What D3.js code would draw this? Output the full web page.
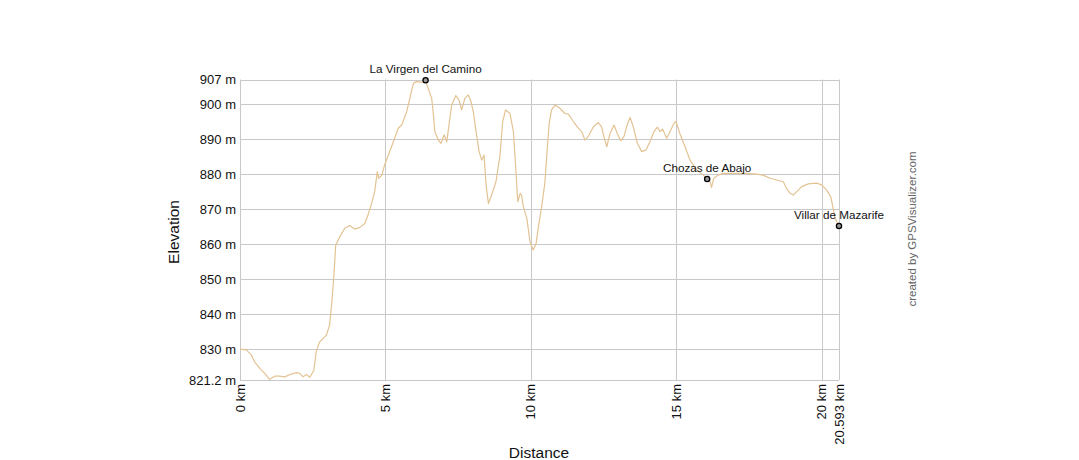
<!DOCTYPE html>
<html><head><meta charset="utf-8">
<script src="https://cdn.jsdelivr.net/npm/d3@7"></script>
<style>
html,body{margin:0;padding:0;background:#fff;}
svg{display:block;font-family:"Liberation Sans",Arial,sans-serif;}
</style></head>
<body>
<svg id="c" width="1079" height="460"></svg>
<script>
const distanceKm = [0,0.22,0.39,0.5,0.68,0.85,1.02,1.19,1.36,1.54,1.76,1.94,2.05,2.17,2.28,2.40,2.54,2.62,2.74,2.97,3.08,3.16,3.23,3.29,3.43,3.60,3.77,3.94,4.11,4.29,4.40,4.51,4.63,4.72,4.77,4.88,4.97,5.21,5.44,5.56,5.73,5.84,5.96,6.07,6.24,6.38,6.47,6.59,6.65,6.70,6.82,6.91,7.02,7.11,7.20,7.28,7.42,7.53,7.62,7.73,7.85,7.94,8.02,8.10,8.22,8.31,8.39,8.46,8.54,8.65,8.80,8.94,9.03,9.13,9.28,9.40,9.48,9.55,9.63,9.68,9.74,9.86,9.97,10.08,10.18,10.26,10.37,10.48,10.56,10.63,10.71,10.83,11.00,11.17,11.29,11.46,11.63,11.75,11.86,11.97,12.15,12.32,12.43,12.51,12.61,12.72,12.86,12.97,13.09,13.20,13.29,13.41,13.52,13.66,13.81,13.96,14.09,14.23,14.35,14.44,14.53,14.67,14.78,14.92,14.99,15.12,15.30,15.47,15.70,15.93,16.06,16.16,16.21,16.29,16.44,16.61,16.96,17.41,17.76,17.98,18.22,18.45,18.68,18.79,18.91,19.02,19.14,19.31,19.54,19.82,20.0,20.17,20.31,20.38,20.46,20.593];
const elevationM = [830.0,829.8,828.3,826.4,824.5,823.1,821.4,822.3,822.3,822.1,822.9,823.3,823.1,822.1,822.8,822.0,824.0,829.3,832.1,834.0,836.9,843.6,851.2,859.7,862.1,864.5,865.3,864.3,864.7,865.9,868.3,871.2,875.0,880.7,878.8,879.7,882.6,887.8,893.1,894.0,897.8,901.6,905.9,906.4,906.2,906.6,904.5,901.6,896.9,892.1,889.7,888.8,891.2,889.2,895.0,899.7,902.4,901.1,898.3,901.6,902.6,900.7,897.8,893.1,886.4,884.0,885.4,876.9,871.6,874.0,877.8,885.4,895.0,898.3,897.3,892.1,881.6,872.1,874.5,874.0,870.7,867.4,860.7,858.3,860.2,865.0,870.7,877.4,886.9,894.5,898.3,899.7,898.8,897.3,897.1,895.0,893.1,892.1,889.7,890.7,893.5,894.7,893.5,890.7,887.8,891.6,894.0,891.6,889.5,890.7,893.5,896.2,893.5,888.8,886.4,886.9,889.2,892.1,893.4,892.1,892.8,890.2,892.1,894.5,895.0,891.6,887.8,884.0,881.2,879.7,878.6,877.8,876.2,878.8,879.7,880.2,880.2,880.2,880.0,879.7,878.8,878.3,877.8,875.9,874.5,874.0,875.0,876.4,877.2,877.4,876.9,875.4,873.5,870.7,867.4,865.2];

const yTickValues = [821.2,830,840,850,860,870,880,890,900,907];
const xTickValues = [0,5,10,15,20,20.593];

const waypointNames = ["La Virgen del Camino","Chozas de Abajo","Villar de Mazarife"];
const waypointKm = [6.38,16.06,20.593];
const waypointElev = [906.8,878.6,865.2];

const svg = d3.select("#c");
const x = d3.scaleLinear().domain([0,20.593]).range([240,839]);
const y = d3.scaleLinear().domain([821.2,907]).range([380,79.5]);

const grid = "#c8c8c8";
svg.append("g").selectAll("line").data(yTickValues).join("line")
  .attr("x1",x(0)).attr("x2",x(20.593))
  .attr("y1",d=>Math.round(y(d))+0.5).attr("y2",d=>Math.round(y(d))+0.5)
  .attr("stroke",grid).attr("stroke-width",1);
svg.append("g").selectAll("line").data(xTickValues).join("line")
  .attr("x1",d=>Math.round(x(d))+0.5).attr("x2",d=>Math.round(x(d))+0.5)
  .attr("y1",y(907)).attr("y2",y(821.2))
  .attr("stroke",grid).attr("stroke-width",1);

svg.append("g").selectAll("text").data(yTickValues).join("text")
  .attr("x",236).attr("y",d=>y(d)).attr("dy","0.35em")
  .attr("text-anchor","end").attr("font-size",13).attr("fill","#111")
  .text(d=>d+" m");

svg.append("g").selectAll("text").data(xTickValues).join("text")
  .attr("transform",d=>`translate(${x(d)},384) rotate(-90)`)
  .attr("dy","0.35em").attr("text-anchor","end")
  .attr("font-size",13).attr("fill","#111")
  .text(d=>d+" km");

svg.append("text").attr("transform","translate(174,232) rotate(-90)")
  .attr("dy","0.35em").attr("text-anchor","middle").attr("font-size",15.5).attr("fill","#111")
  .text("Elevation");
svg.append("text").attr("x",539).attr("y",458)
  .attr("text-anchor","middle").attr("font-size",15.5).attr("fill","#111")
  .text("Distance");
svg.append("text").attr("transform","translate(912,229) rotate(-90)")
  .attr("dy","0.35em").attr("text-anchor","middle").attr("font-size",11.5).attr("fill","#666")
  .text("created by GPSVisualizer.com");

const pts = distanceKm.map((d,i)=>[d,elevationM[i]]);
svg.append("path").datum(pts)
  .attr("fill","none").attr("stroke","#e3c393").attr("stroke-width",1.2)
  .attr("stroke-linejoin","round")
  .attr("d",d3.line().x(d=>x(d[0])).y(d=>y(d[1])));

const wp = waypointNames.map((n,i)=>({n,k:waypointKm[i],e:waypointElev[i]}));
const g = svg.append("g");
g.selectAll("circle").data(wp).join("circle")
  .attr("cx",d=>x(d.k)).attr("cy",d=>y(d.e)).attr("r",2.6)
  .attr("fill","#999").attr("stroke","#000").attr("stroke-width",1.3);
g.selectAll("text").data(wp).join("text")
  .attr("x",d=>x(d.k)).attr("y",d=>y(d.e)-7)
  .attr("text-anchor","middle").attr("font-size",11.7).attr("fill","#111")
  .text(d=>d.n);
</script>
</body></html>
